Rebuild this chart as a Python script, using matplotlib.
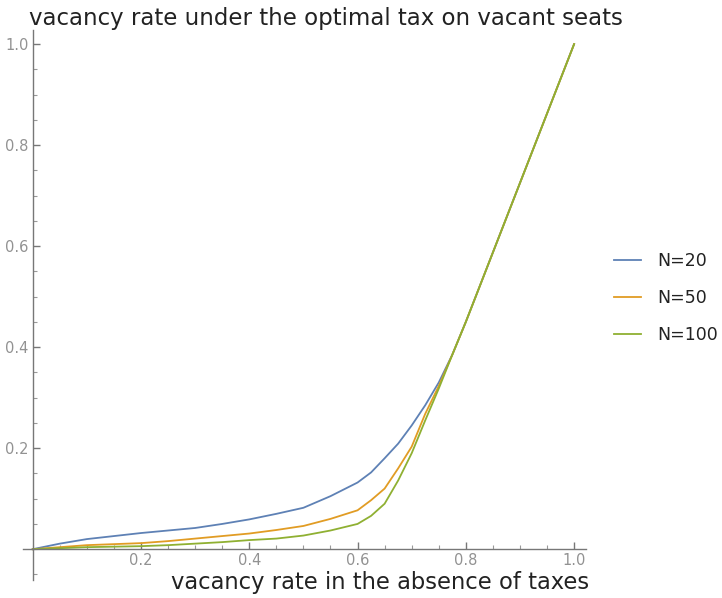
import matplotlib.pyplot as plt
from matplotlib.ticker import MultipleLocator

# values
x = [0, 0.05, 0.1, 0.15, 0.2, 0.25, 0.3, 0.35, 0.4, 0.45, 0.5, 0.55, 0.6,
     0.625, 0.65, 0.675, 0.7, 0.725, 0.75, 0.775, 0.8, 0.85, 0.9, 0.95, 1.0]
n20 = [0, 0.011, 0.02, 0.026, 0.032, 0.037, 0.042, 0.05, 0.059, 0.07, 0.082, 0.105, 0.132,
       0.152, 0.18, 0.209, 0.245, 0.285, 0.33, 0.385, 0.45, 0.5875, 0.725, 0.8625, 1.0]
n50 = [0, 0.004, 0.008, 0.01, 0.012, 0.016, 0.021, 0.026, 0.031, 0.038, 0.046, 0.06, 0.077,
       0.097, 0.12, 0.16, 0.203, 0.268, 0.323, 0.385, 0.45, 0.5875, 0.725, 0.8625, 1.0]
n100 = [0, 0.002, 0.004, 0.005, 0.006, 0.008, 0.011, 0.014, 0.018, 0.021, 0.027, 0.037, 0.05,
        0.066, 0.09, 0.136, 0.19, 0.255, 0.318, 0.385, 0.45, 0.5875, 0.725, 0.8625, 1.0]
labels = ['N=20', 'N=50', 'N=100']
colors = ['#5E81B5', '#E19C24', '#8FB032']

fig = plt.figure(figsize=(7.22, 5.98), dpi=100)
ax = fig.add_axes([23 / 722, 1 - 580 / 598, (586 - 23) / 722, (580 - 30) / 598])

for ys, lab, c in zip([n20, n50, n100], labels, colors):
    ax.plot(x, ys, color=c, lw=1.3, label=lab)

ax.set_xlim(-0.018, 1.022)
ax.set_ylim(-0.061, 1.028)

ax.spines['top'].set_visible(False)
ax.spines['right'].set_visible(False)
ax.spines['left'].set_position(('data', 0))
ax.spines['bottom'].set_position(('data', 0))
for s in ['left', 'bottom']:
    ax.spines[s].set_color('#777777')
    ax.spines[s].set_linewidth(1.0)

ax.xaxis.set_minor_locator(MultipleLocator(0.05))
ax.yaxis.set_minor_locator(MultipleLocator(0.05))
ax.set_xticks([0.2, 0.4, 0.6, 0.8, 1.0])
ax.set_yticks([0.2, 0.4, 0.6, 0.8, 1.0])
ax.tick_params(which='major', direction='in', length=5, width=1, color='#777777',
               labelcolor='#929292', labelsize=10.5, pad=3)
ax.tick_params(which='minor', direction='in', length=3, width=0.8, color='#999999')

fig.text(0.452, 1 - 25 / 598, 'vacancy rate under the optimal tax on vacant seats',
         ha='center', va='baseline', fontsize=16.5, color='#222222')
fig.text(0.526, 1 - 589 / 598, 'vacancy rate in the absence of taxes',
         ha='center', va='baseline', fontsize=16.3, color='#222222')

leg = ax.legend(loc='center left', bbox_to_anchor=(598 / 722, 1 - 298 / 598),
                bbox_transform=fig.transFigure, frameon=False, fontsize=12.5,
                handlelength=1.6, labelspacing=1.1, handletextpad=0.9)
for t in leg.get_texts():
    t.set_color('#222222')

fig.savefig('out.png', dpi=100)
